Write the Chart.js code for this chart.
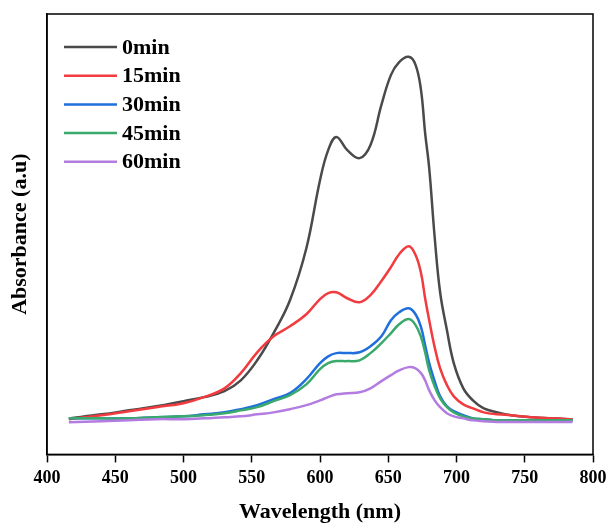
<!DOCTYPE html>
<html>
<head>
<meta charset="utf-8">
<script src="https://cdn.jsdelivr.net/npm/chart.js@4"></script>
<style>
  html, body { margin: 0; padding: 0; background: #fff; }
  #wrap { width: 608px; height: 523px; }
</style>
</head>
<body>
<div id="wrap"><canvas id="uvChart" width="608" height="523"></canvas></div>
<script>
// wavelengths (nm), shared by all series
const wavelengths = [416, 440, 460, 480, 500, 515, 530, 542, 554, 566, 578, 590,
  600, 606, 612, 620, 629, 637, 645, 652, 658, 665,
  670, 674, 677, 680, 684, 688, 693, 698,
  705, 712, 720, 730, 740, 755, 770, 785];

const labels = ["0min", "15min", "30min", "45min", "60min"];
const colors = ["#4a4a4a", "#f23b3f", "#1f6fdc", "#3aa96c", "#b27ce0"];

const abs0 = [0.090, 0.100, 0.110, 0.120, 0.133, 0.143, 0.158, 0.185, 0.235, 0.303, 0.385, 0.515,
  0.685, 0.760, 0.793, 0.760, 0.740, 0.773, 0.873, 0.948, 0.980, 0.993,
  0.973, 0.910, 0.803, 0.715, 0.543, 0.405, 0.310, 0.228,
  0.165, 0.135, 0.115, 0.105, 0.098, 0.093, 0.090, 0.088];
const abs15 = [0.088, 0.098, 0.108, 0.118, 0.128, 0.143, 0.165, 0.203, 0.255, 0.295, 0.320, 0.350,
  0.388, 0.403, 0.405, 0.390, 0.380, 0.398, 0.433, 0.468, 0.500, 0.520,
  0.498, 0.453, 0.390, 0.335, 0.268, 0.215, 0.173, 0.145,
  0.125, 0.115, 0.105, 0.100, 0.098, 0.093, 0.090, 0.088];
const abs30 = [0.090, 0.090, 0.090, 0.093, 0.095, 0.100, 0.105, 0.113, 0.123, 0.138, 0.153, 0.188,
  0.228, 0.245, 0.253, 0.253, 0.255, 0.270, 0.295, 0.335, 0.355, 0.365,
  0.350, 0.318, 0.273, 0.228, 0.183, 0.145, 0.120, 0.108,
  0.098, 0.090, 0.088, 0.085, 0.085, 0.085, 0.085, 0.085];
const abs45 = [0.090, 0.090, 0.090, 0.093, 0.095, 0.098, 0.103, 0.110, 0.118, 0.133, 0.148, 0.175,
  0.213, 0.228, 0.233, 0.233, 0.235, 0.253, 0.278, 0.303, 0.325, 0.338,
  0.323, 0.293, 0.255, 0.210, 0.170, 0.140, 0.118, 0.105,
  0.095, 0.090, 0.088, 0.085, 0.085, 0.085, 0.085, 0.085];
const abs60 = [0.080, 0.083, 0.085, 0.088, 0.088, 0.090, 0.093, 0.095, 0.100, 0.105, 0.113, 0.123,
  0.135, 0.143, 0.150, 0.153, 0.155, 0.165, 0.183, 0.198, 0.210, 0.218,
  0.215, 0.203, 0.185, 0.160, 0.135, 0.118, 0.103, 0.095,
  0.090, 0.085, 0.083, 0.081, 0.081, 0.081, 0.081, 0.081];

const series = [abs0, abs15, abs30, abs45, abs60];
const FONT = "'Liberation Serif', 'Times New Roman', serif";

// box around the plot area
const frame = {
  id: "frame",
  afterDraw(chart) {
    const { ctx, chartArea: a } = chart;
    ctx.save();
    ctx.strokeStyle = "#000";
    ctx.lineWidth = 1.5;
    ctx.strokeRect(a.left, a.top, a.right - a.left, a.bottom - a.top);
    ctx.restore();
  }
};

// legend drawn inside the plot, top-left
const insideLegend = {
  id: "insideLegend",
  afterDatasetsDraw(chart) {
    const { ctx, chartArea: a } = chart;
    ctx.save();
    ctx.font = "bold 22px " + FONT;
    ctx.textBaseline = "middle";
    chart.data.datasets.forEach((ds, i) => {
      const y = a.top + 33 + i * 28.7;
      ctx.strokeStyle = ds.borderColor;
      ctx.lineWidth = 2.5;
      ctx.beginPath();
      ctx.moveTo(a.left + 17, y);
      ctx.lineTo(a.left + 70, y);
      ctx.stroke();
      ctx.fillStyle = "#000";
      ctx.fillText(ds.label, a.left + 75, y + 1);
    });
    ctx.restore();
  }
};

new Chart(document.getElementById("uvChart"), {
  type: "line",
  data: {
    datasets: series.map((vals, i) => ({
      label: labels[i],
      data: vals.map((v, j) => ({ x: wavelengths[j], y: v })),
      borderColor: colors[i],
      borderWidth: 2.5,
      pointRadius: 0,
      fill: false,
      tension: 0.4,
      order: series.length - i   // later series on top
    }))
  },
  options: {
    responsive: false,
    animation: false,
    layout: { padding: { left: 8, right: 0, top: 14, bottom: 0 } },
    plugins: {
      legend: { display: false },
      tooltip: { enabled: false }
    },
    scales: {
      x: {
        type: "linear",
        min: 400,
        max: 800,
        // let the "800" label hang a little past the plot edge
        afterFit: (s) => { s.paddingRight = 15; },
        ticks: {
          stepSize: 50,
          color: "#000",
          font: { family: FONT, size: 18, weight: "bold" },
          padding: 5
        },
        grid: {
          drawOnChartArea: false,
          drawTicks: true,
          tickLength: 8,
          tickWidth: 1.5,
          tickColor: "#000"
        },
        border: { display: true, color: "#000", width: 1.5 },
        title: {
          display: true,
          text: "Wavelength (nm)",
          color: "#000",
          font: { family: FONT, size: 22, weight: "bold", lineHeight: 1.0 },
          padding: { top: 7, bottom: 0 }
        }
      },
      y: {
        min: 0,
        max: 1.1,
        ticks: { display: false },
        grid: { display: false, drawTicks: false },
        border: { display: true, color: "#000", width: 1.5 },
        title: {
          display: true,
          text: "Absorbance (a.u)",
          color: "#000",
          font: { family: FONT, size: 22, weight: "bold", lineHeight: 1.0 },
          padding: { top: 1, bottom: 16 }
        }
      }
    }
  },
  plugins: [frame, insideLegend]
});
</script>
</body>
</html>
